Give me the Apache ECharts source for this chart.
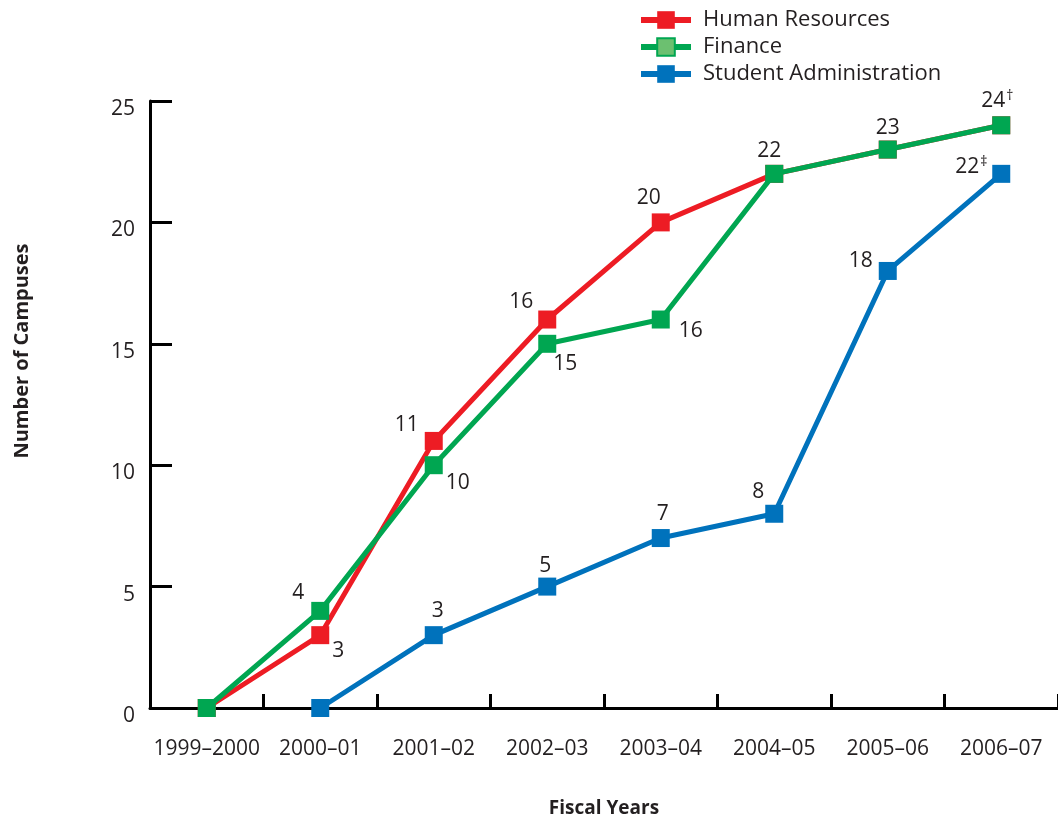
<!DOCTYPE html>
<html>
<head>
<meta charset="utf-8">
<style>
  html, body { margin: 0; padding: 0; background: #fff; }
  #chart { width: 1058px; height: 823px; }
</style>
<script src="https://cdn.jsdelivr.net/npm/echarts@6/dist/echarts.min.js"></script>
</head>
<body>
<div id="chart"></div>
<script>
// Fiscal years on the category axis
const years = ['1999–2000', '2000–01', '2001–02', '2002–03', '2003–04', '2004–05', '2005–06', '2006–07'];

// Number of campuses running each system
const humanResources = [0, 3, 11, 16, 20, 22, 23, 24];
const finance = [0, 4, 10, 15, 16, 22, 23, 24];
const studentAdmin = [null, 0, 3, 5, 7, 8, 18, 22];

// Footnote marks appended to some point labels
const hrNotes = ['', '', '', '', '', '', '', '†'];
const saNotes = ['', '', '', '', '', '', '', '‡'];

// Label placement per point (offset from marker centre); null hides the label
const hrLabelOffsets = [null, [18, 16], [-27, -16], [-26, -18], [-12, -24], [-5, -23], [0, -22], [-4, -24]];
const finLabelOffsets = [null, [-22, -18], [24, 18], [18, 20], [30, 11], null, null, null];
const saLabelOffsets = [null, null, [4, -24], [-2, -21], [2, -24], [-16, -22], [-27, -10], [-30, -7]];

const FONT = '"Open Sans", "Noto Sans", sans-serif';
const TEXT = '#231f20';

function buildData(values, offsets, notes) {
  return values.map((v, i) => {
    const off = offsets[i];
    const item = { value: v };
    if (off && v !== null) {
      const note = notes ? notes[i] : '';
      item.label = {
        show: true,
        position: 'inside',
        offset: off,
        formatter: note ? '{a|' + v + '}{s|' + note + '}' : String(v)
      };
    } else {
      item.label = { show: false };
    }
    return item;
  });
}

const labelBase = {
  color: TEXT,
  fontFamily: FONT,
  fontSize: 21,
  rich: {
    a: { fontFamily: FONT, fontSize: 21, color: TEXT },
    s: { fontFamily: FONT, fontSize: 14, color: TEXT, verticalAlign: 'top', padding: [0, 0, 10, 1] }
  }
};

function lineSeries(name, color, data, z) {
  return {
    name: name,
    type: 'line',
    data: data,
    z: z,
    symbol: 'rect',
    symbolSize: 18,
    connectNulls: false,
    lineStyle: { color: color, width: 5 },
    itemStyle: { color: color },
    label: Object.assign({ show: true }, labelBase),
    emphasis: { disabled: true },
    animation: false
  };
}

const chart = echarts.init(document.getElementById('chart'), null, { renderer: 'canvas' });

chart.setOption({
  backgroundColor: '#ffffff',
  animation: false,
  textStyle: { fontFamily: FONT },
  legend: {
    orient: 'vertical',
    left: 633,
    top: 4,
    itemWidth: 50,
    itemHeight: 22,
    itemGap: 5,
    lineStyle: { width: 6 },
    textStyle: { fontFamily: FONT, fontSize: 22, color: TEXT, padding: [0, 0, 0, 7] },
    data: [
      { name: 'Human Resources' },
      { name: 'Finance', itemStyle: { color: '#6cc070', borderColor: '#00a651', borderWidth: 2 } },
      { name: 'Student Administration' }
    ]
  },
  graphic: [{
    type: 'text',
    x: 22,
    y: 351,
    rotation: Math.PI / 2,
    style: {
      text: 'Number of Campuses',
      fontFamily: FONT,
      fontSize: 20,
      fontWeight: 'bold',
      fill: TEXT,
      align: 'center',
      verticalAlign: 'middle'
    }
  }],
  grid: { left: 150, top: 101, width: 912, height: 608, containLabel: false },
  xAxis: {
    type: 'category',
    data: years,
    boundaryGap: true,
    name: 'Fiscal Years',
    nameLocation: 'middle',
    nameGap: 91,
    nameTextStyle: { fontFamily: FONT, fontSize: 19, fontWeight: 'bold', color: TEXT },
    axisLine: { lineStyle: { color: '#000', width: 3 } },
    axisTick: { show: true, inside: true, interval: 0, length: 14, alignWithLabel: false, lineStyle: { color: '#000', width: 3 } },
    axisLabel: { interval: 0, color: TEXT, fontFamily: FONT, fontSize: 21, margin: 31 },
    splitLine: { show: false }
  },
  yAxis: {
    type: 'value',
    min: 0,
    max: 25,
    interval: 5,
    axisLine: { show: true, lineStyle: { color: '#000', width: 3 } },
    axisTick: { show: true, inside: true, length: 22, lineStyle: { color: '#000', width: 3 } },
    axisLabel: { color: TEXT, fontFamily: FONT, fontSize: 21, margin: 15, verticalAlign: 'top', lineHeight: 16 },
    splitLine: { show: false }
  },
  series: [
    lineSeries('Human Resources', '#ed1c24', buildData(humanResources, hrLabelOffsets, hrNotes), 2),
    lineSeries('Finance', '#00a651', buildData(finance, finLabelOffsets, null), 3),
    lineSeries('Student Administration', '#0072bc', buildData(studentAdmin, saLabelOffsets, saNotes), 4)
  ]
});
</script>
</body>
</html>
